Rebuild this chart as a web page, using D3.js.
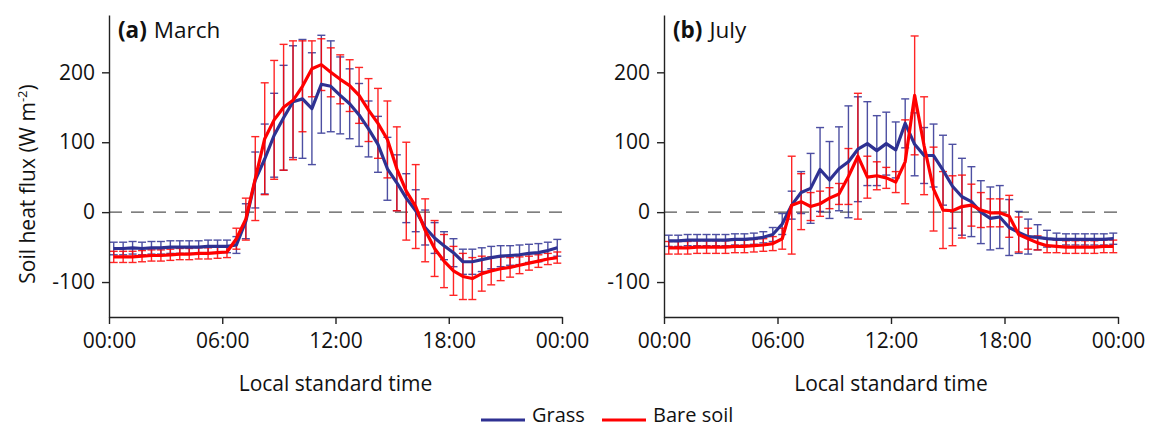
<!DOCTYPE html>
<meta charset="utf-8">
<style>
body { margin: 0; background: #fff; }
text { font-family: "Open Sans", "DejaVu Sans", sans-serif; fill: #111; }
.axis path, .axis line { stroke: #222; stroke-width: 1.4px; }
</style>
<body>
<svg width="1151" height="431"></svg>
</body>
<script src="https://d3js.org/d3.v7.min.js"></script>
<script>

// half-hourly means (centred on :15 and :45), W m-2
var times = d3.range(48).map(function(i) { return 0.25 + i * 0.5; });

var grassMar = [-52,-52,-51,-52,-51,-51,-50,-50,-50,-50,-49,-49,-49,-47,-13,46,76,110,135,158,162,148,183,180,
                167,155,139,119,97,62,42,20,2,-22,-37,-48,-58,-71,-71,-68,-65,-63,-62,-61,-59,-58,-55,-51];
var grassMarSd = [9,9,9,9,9,9,9,9,9,9,9,9,9,12,25,40,50,60,75,80,85,80,70,65,
                  55,50,45,40,40,45,40,35,30,25,22,20,20,18,18,17,16,15,14,14,13,13,12,12];
var bareMar = [-64,-64,-64,-63,-62,-62,-61,-60,-60,-59,-59,-58,-57,-38,-10,48,105,132,150,160,180,205,211,200,
               190,181,167,146,127,104,62,30,8,-26,-52,-70,-84,-92,-95,-88,-84,-81,-79,-76,-73,-70,-67,-65];
var bareMarSd = [8,8,8,8,8,8,8,8,8,8,8,8,8,15,30,60,80,85,90,85,65,40,37,35,
                 35,37,40,45,50,55,60,70,60,45,40,38,35,33,30,25,20,17,14,12,10,9,8,8];

var grassJul = [-41,-41,-40,-40,-40,-40,-40,-39,-39,-38,-36,-32,-17,10,28,34,61,46,62,72,90,98,88,98,
                89,127,97,81,81,60,37,22,15,0,-9,-7,-22,-29,-35,-36,-38,-39,-39,-39,-39,-39,-39,-38];
var grassJulSd = [8,8,8,8,8,8,8,8,8,8,8,10,15,20,30,50,60,55,60,80,75,60,50,45,
                  40,35,45,40,45,50,60,55,50,45,45,45,40,30,25,18,12,9,8,8,8,8,8,8];
var bareJul = [-51,-51,-51,-50,-50,-50,-50,-49,-49,-48,-47,-45,-38,10,15,8,12,20,26,51,80,50,52,49,
               43,72,167,95,33,3,2,8,10,3,-1,-1,-6,-32,-38,-44,-48,-49,-50,-50,-50,-50,-49,-49];
var bareJulSd = [9,9,9,9,9,9,9,9,9,9,9,10,15,70,40,20,18,15,15,40,90,30,20,15,
                 15,60,85,70,60,55,50,45,30,25,20,20,30,25,15,10,10,9,9,9,9,9,9,9];

var panels = [
  {tag: "(a)", month: "March", x0: 109, x1: 562, grass: grassMar, grassSd: grassMarSd, bare: bareMar, bareSd: bareMarSd},
  {tag: "(b)", month: "July", x0: 664, x1: 1118, grass: grassJul, grassSd: grassJulSd, bare: bareJul, bareSd: bareJulSd}
];

var xTicks = [0, 6, 12, 18, 24];
var xTickLabels = ["00:00", "06:00", "12:00", "18:00", "00:00"];
var yTicks = [-100, 0, 100, 200];

var grassColor = "#2e3192",
    bareColor = "#ff0000";

var svg = d3.select("svg");

var y = d3.scaleLinear().domain([-150, 282]).range([317, 15]);

panels.forEach(function(p) {
  var x = d3.scaleLinear().domain([0, 24]).range([p.x0, p.x1]);
  var g = svg.append("g");

  // zero line
  g.append("line")
    .attr("x1", x(0)).attr("x2", x(24))
    .attr("y1", y(0)).attr("y2", y(0))
    .attr("stroke", "#555").attr("stroke-width", 1.4)
    .attr("stroke-dasharray", "13,9");

  function errorBars(vals, sds, color) {
    var eb = g.append("g").attr("stroke", color).attr("stroke-width", 1.4).attr("opacity", 0.85);
    times.forEach(function(t, i) {
      var cx = x(t), lo = y(vals[i] - sds[i]), hi = y(vals[i] + sds[i]);
      eb.append("line").attr("x1", cx).attr("x2", cx).attr("y1", lo).attr("y2", hi);
      eb.append("line").attr("x1", cx - 4).attr("x2", cx + 4).attr("y1", lo).attr("y2", lo);
      eb.append("line").attr("x1", cx - 4).attr("x2", cx + 4).attr("y1", hi).attr("y2", hi);
    });
  }
  errorBars(p.grass, p.grassSd, grassColor);
  errorBars(p.bare, p.bareSd, bareColor);

  var line = d3.line()
    .x(function(d, i) { return x(times[i]); })
    .y(function(d) { return y(d); });

  g.append("path").datum(p.grass)
    .attr("d", line).attr("fill", "none")
    .attr("stroke", grassColor).attr("stroke-width", 3.2).attr("stroke-linejoin", "round");
  g.append("path").datum(p.bare)
    .attr("d", line).attr("fill", "none")
    .attr("stroke", bareColor).attr("stroke-width", 3.2).attr("stroke-linejoin", "round");

  // axes
  g.append("g").attr("class", "axis")
    .attr("transform", "translate(0," + 317 + ")")
    .call(d3.axisBottom(x).tickValues(xTicks)
      .tickFormat(function(d, i) { return xTickLabels[i]; })
      .tickSize(7).tickSizeOuter(0).tickPadding(9))
    .call(function(a) { a.selectAll("text").style("font-size", "21px"); });

  g.append("g").attr("class", "axis")
    .attr("transform", "translate(" + p.x0 + ",0)")
    .call(d3.axisLeft(y).tickValues(yTicks).tickFormat(function(d) { return String(d); })
      .tickSize(7).tickSizeOuter(0).tickPadding(7))
    .call(function(a) { a.selectAll("text").style("font-size", "21px"); });

  // panel label
  var lab = g.append("text").attr("x", p.x0 + 9).attr("y", 38).style("font-size", "22.5px");
  lab.append("tspan").style("font-weight", "bold").text(p.tag);
  lab.append("tspan").attr("dx", 7).text(p.month);

  g.append("text")
    .attr("x", (p.x0 + p.x1) / 2).attr("y", 391)
    .attr("text-anchor", "middle").style("font-size", "21px")
    .text("Local standard time");
});

// y label
var yl = svg.append("text")
  .attr("transform", "translate(35,184) rotate(-90)")
  .attr("text-anchor", "middle").style("font-size", "21px");
yl.append("tspan").text("Soil heat flux (W m");
yl.append("tspan").attr("dy", -8).style("font-size", "13px").text("-2");
yl.append("tspan").attr("dy", 8).text(")");

// legend
var legend = [{name: "Grass", color: grassColor, x: 481}, {name: "Bare soil", color: bareColor, x: 602}];
var lg = svg.append("g").selectAll("g").data(legend).enter().append("g");
lg.append("line")
  .attr("x1", function(d) { return d.x; }).attr("x2", function(d) { return d.x + 44; })
  .attr("y1", 420).attr("y2", 420)
  .attr("stroke", function(d) { return d.color; }).attr("stroke-width", 3);
lg.append("text")
  .attr("x", function(d) { return d.x + 51; }).attr("y", 417)
  .attr("dominant-baseline", "middle")
  .style("font-size", "20px")
  .text(function(d) { return d.name; });

</script>
